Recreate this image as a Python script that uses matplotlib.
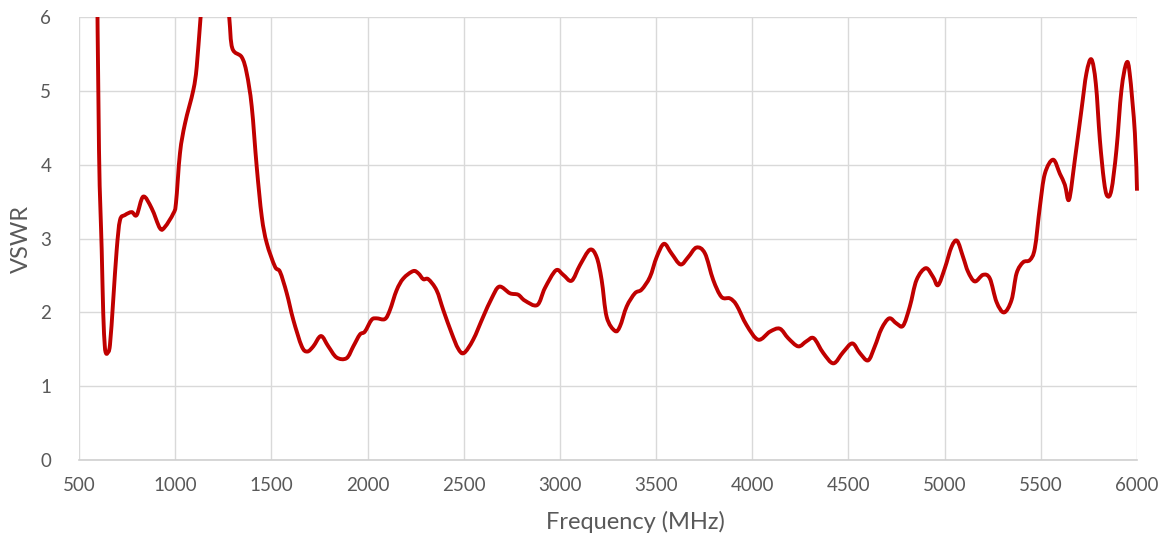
import matplotlib
matplotlib.use("Agg")
import matplotlib.pyplot as plt
import numpy as np
from matplotlib.path import Path
from matplotlib.patches import PathPatch, Rectangle

freq_mhz = [592, 604, 618, 626, 634, 640, 648, 661, 678, 696, 713, 739, 774, 800, 834, 878, 921, 947, 990, 1004,
            1025, 1051, 1094, 1112, 1132, 1160, 1210, 1260, 1281, 1297, 1346, 1372, 1398, 1424,
            1450, 1476, 1519, 1545, 1580, 1614, 1658, 1687, 1718, 1758, 1796, 1839, 1891, 1926,
            1960, 1986, 2021, 2047, 2090, 2116, 2151, 2186, 2237, 2264, 2290, 2316, 2359, 2394,
            2437, 2471, 2501, 2549, 2601, 2645, 2685, 2740, 2783, 2818, 2882, 2922, 2979, 3017,
            3061, 3104, 3156, 3191, 3217, 3243, 3286, 3312, 3347, 3390, 3425, 3468, 3503, 3541,
            3580, 3627, 3667, 3710, 3754, 3797, 3840, 3884, 3918, 3970, 4031, 4092, 4143, 4187,
            4239, 4282, 4320, 4369, 4422, 4472, 4520, 4559, 4602, 4637, 4672, 4712, 4750, 4784,
            4819, 4854, 4902, 4940, 4966, 5001, 5036, 5065, 5096, 5122, 5157, 5200, 5235, 5270,
            5309, 5348, 5374, 5408, 5443, 5469, 5495, 5521, 5564, 5599, 5625, 5647, 5677, 5711,
            5737, 5763, 5786, 5807, 5828, 5845, 5867, 5893, 5919, 5945, 5962, 5989, 6000]
vswr = [7.2, 4.20, 2.85, 1.99, 1.55, 1.45, 1.45, 1.56, 2.17, 2.85, 3.25, 3.32, 3.36, 3.32, 3.57, 3.41, 3.14, 3.16, 3.34, 3.48,
        4.16, 4.56, 5.01, 5.33, 6.0, 6.8, 7.2, 6.6, 6.0, 5.58, 5.46, 5.24, 4.79, 3.97,
        3.30, 2.94, 2.62, 2.55, 2.26, 1.90, 1.54, 1.47, 1.54, 1.68, 1.54, 1.39, 1.38, 1.54,
        1.70, 1.74, 1.90, 1.92, 1.91, 2.03, 2.30, 2.46, 2.56, 2.53, 2.45, 2.45, 2.30, 2.03,
        1.72, 1.51, 1.45, 1.63, 1.94, 2.19, 2.35, 2.26, 2.24, 2.16, 2.10, 2.33, 2.57, 2.51,
        2.43, 2.64, 2.85, 2.75, 2.44, 1.94, 1.75, 1.81, 2.08, 2.26, 2.31, 2.48, 2.75, 2.93,
        2.80, 2.65, 2.75, 2.88, 2.80, 2.44, 2.21, 2.19, 2.10, 1.83, 1.63, 1.74, 1.78, 1.65,
        1.54, 1.61, 1.65, 1.45, 1.31, 1.46, 1.58, 1.45, 1.35, 1.54, 1.78, 1.92, 1.85, 1.82,
        2.08, 2.44, 2.60, 2.48, 2.37, 2.60, 2.89, 2.97, 2.75, 2.55, 2.42, 2.51, 2.46, 2.14,
        2.00, 2.17, 2.53, 2.68, 2.71, 2.87, 3.43, 3.88, 4.07, 3.88, 3.73, 3.53, 4.07, 4.74,
        5.24, 5.43, 5.10, 4.34, 3.79, 3.58, 3.66, 4.20, 5.01, 5.38, 5.24, 4.43, 3.65]

x_ticks = [500, 1000, 1500, 2000, 2500, 3000, 3500, 4000, 4500, 5000, 5500, 6000]
y_ticks = [0, 1, 2, 3, 4, 5, 6]
x_title = "Frequency (MHz)"
y_title = "VSWR"

plt.rcParams['font.family'] = ['Lato', 'DejaVu Sans']

fig = plt.figure(figsize=(11.65, 5.33), dpi=100)
ax = fig.add_axes([79 / 1165, 73 / 533, (1137 - 79) / 1165, (460 - 17.3) / 533])

# Smoothed line (Excel-style): cubic Bezier segments through the data points
P = np.column_stack([freq_mhz, vswr]).astype(float)
n = len(P)
verts = [P[0]]
codes = [Path.MOVETO]
for i in range(n - 1):
    p_prev = P[i - 1] if i > 0 else P[i]
    p_next2 = P[i + 2] if i + 2 < n else P[i + 1]
    c1 = P[i] + (P[i + 1] - p_prev) / 6.0
    c2 = P[i + 1] - (p_next2 - P[i]) / 6.0
    verts += [c1, c2, P[i + 1]]
    codes += [Path.CURVE4, Path.CURVE4, Path.CURVE4]
curve = PathPatch(Path(verts, codes), fill=False, edgecolor='#C00000', lw=2.8,
                  joinstyle='round', capstyle='butt', zorder=3, transform=ax.transData)
ax.add_patch(curve)
clip_rect = Rectangle((-0.01, 0.0), 1.02, 1.0, transform=ax.transAxes, visible=False)
ax.add_artist(clip_rect)
curve.set_clip_path(clip_rect)

ax.set_xlim(500, 6000)
ax.set_ylim(0, 6)
ax.set_xticks(x_ticks)
ax.set_yticks(y_ticks)
ax.grid(True, color='#d9d9d9', lw=1.0, zorder=0)
ax.set_axisbelow(True)
for s in ['top', 'right', 'left']:
    ax.spines[s].set_visible(False)
ax.spines['bottom'].set_color('#d0d0d0')
ax.spines['bottom'].set_linewidth(1.2)
ax.tick_params(axis='both', length=0, labelsize=13.5, labelcolor='#595959')
ax.tick_params(axis='x', pad=12)
ax.tick_params(axis='y', pad=20)
ax.set_xlabel(x_title, fontsize=17, color='#595959', labelpad=9)
ax.xaxis.set_label_coords((635 - 79) / 1058, -0.116)
ax.set_ylabel(y_title, fontsize=17, color='#595959', labelpad=6)

fig.savefig("out.png", dpi=100)
